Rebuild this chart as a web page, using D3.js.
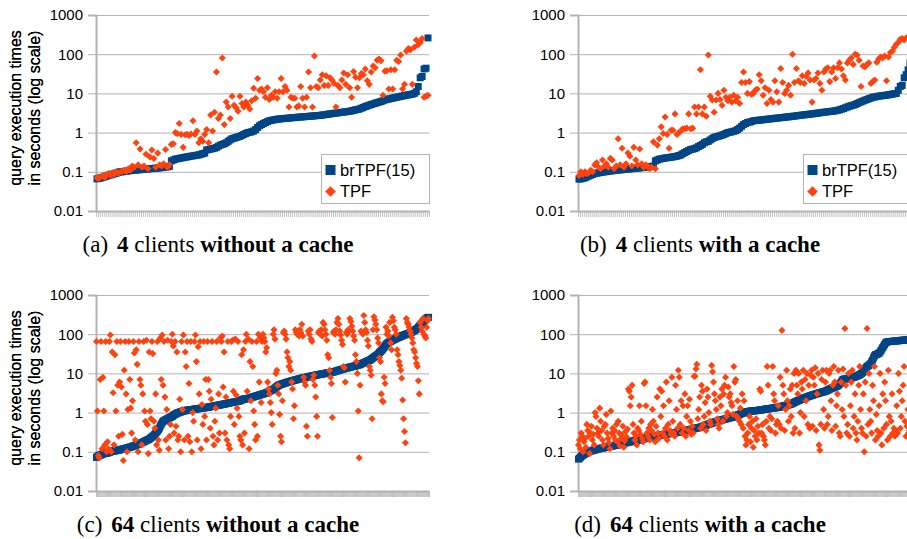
<!DOCTYPE html>
<html>
<head>
<meta charset="utf-8">
<script src="https://cdn.jsdelivr.net/npm/d3@7"></script>
<style>
  body { margin: 0; background: #fff; }
  svg text { font-family: "Liberation Sans", Arial, sans-serif; fill: #000; }
  .caption { font-family: "Liberation Serif", "Times New Roman", serif; font-size: 23px; }
</style>
</head>
<body>
<svg id="chart" width="907" height="539"></svg>
<script>
// ---- data (queries sorted by brTPF time) ----
const brtpfA = [0.066,0.068,0.07,0.072,0.075,0.078,0.081,0.084,0.087,0.09,0.093,0.097,
  0.1,0.1,0.102,0.104,0.105,0.107,0.108,0.11,0.111,0.112,0.113,0.115,0.116,0.117,0.118,0.12,0.121,0.122,0.124,0.125,0.126,0.128,0.13,0.132,0.134,0.138,
  0.19,0.2,0.21,0.215,0.22,0.225,0.23,0.235,0.24,0.245,0.25,0.255,0.26,0.265,0.27,0.28,0.29,0.3,
  0.36,0.37,0.38,0.39,0.4,0.42,0.45,0.48,0.5,0.52,0.55,0.6,0.65,0.7,0.72,0.75,0.78,0.8,0.85,0.9,0.95,1.0,1.02,1.05,
  1.1,1.2,1.35,1.5,1.6,1.7,1.8,1.9,
  2.0,2.05,2.1,2.15,2.2,2.22,2.25,2.28,2.3,2.32,2.35,2.38,2.4,2.42,2.45,2.48,2.5,2.52,2.55,2.58,2.6,2.62,2.65,2.68,2.7,2.73,2.76,2.8,2.85,2.9,2.95,3.0,
  3.05,3.1,3.15,3.2,3.25,3.3,3.35,3.4,3.45,3.5,3.6,3.7,3.8,3.9,4.0,4.2,4.4,4.6,4.8,5.0,5.2,5.4,5.6,5.8,6.0,6.2,6.5,6.8,
  7.0,7.2,7.4,7.6,7.8,8.0,8.2,8.4,8.6,8.8,9.0,9.2,9.4,9.6,10,11,
  15,25,27,42,44,260];
const tpfA = [0.07,0.068,0.075,0.08,0.072,0.085,0.09,0.08,0.095,0.088,0.1,0.092,
  0.1,0.105,0.11,0.1,0.12,0.11,0.14,0.13,0.55,0.15,0.38,0.13,0.14,0.28,0.12,0.24,0.36,0.22,0.13,0.3,0.15,0.14,0.16,0.37,0.13,0.15,
  0.5,0.52,1.0,0.95,1.7,0.9,0.42,0.88,0.9,0.85,0.92,2.0,0.9,1.1,0.55,0.7,0.6,0.9,
  1.2,0.55,2.8,1.1,3.3,35,2.3,2.8,80,1.6,6.0,4.5,2.3,8.5,5.0,4.3,3.5,8.5,5.5,4.5,6.0,5.0,4.0,6.5,
  13.5,7.5,24,12,13,11,8,14,
  7,9,8,11,7.5,11,24,11,15,12,4.5,8,7.5,7.5,4.5,4.8,15,7.5,4.5,8,35,14,4.5,90,15,14,22,30,16,28,16,25,
  22,18,4.5,16,14,22,33,17,30,14,8,36,26,14,25,32,30,42,21,17,35,50,45,70,75,68,9,37,
  38,13,40,13,40,70,65,95,13,17,120,140,130,17,150,230,
  175,200,250,8,8.5,9];

const brtpfB = [0.065,0.066,0.068,0.07,0.074,0.078,0.082,0.086,0.09,
  0.092,0.094,0.096,0.098,0.1,0.101,0.103,0.105,0.106,0.108,0.11,0.111,0.112,0.113,0.115,0.116,0.118,0.119,0.12,0.122,0.123,0.125,0.126,0.128,0.13,0.131,0.133,0.135,0.137,0.14,
  0.19,0.2,0.21,0.215,0.22,0.225,0.228,0.232,0.236,0.24,0.245,
  0.25,0.26,0.27,0.29,0.31,0.33,0.35,
  0.37,0.38,0.39,0.41,0.44,0.47,0.5,
  0.55,0.58,0.6,0.65,0.7,0.75,
  0.78,0.8,0.83,0.86,0.9,0.95,1.0,
  1.02,1.05,1.08,1.12,1.2,
  1.3,1.45,1.6,1.7,
  1.8,1.85,1.9,2.0,
  2.02,2.05,2.08,2.1,2.13,2.16,2.19,2.22,2.25,2.28,2.31,2.34,2.37,2.4,2.43,2.47,2.5,
  2.53,2.56,2.6,2.64,2.68,2.72,2.76,2.8,2.84,2.88,2.92,2.96,3.0,3.05,3.1,3.15,3.2,
  3.25,3.3,3.35,3.4,3.45,3.5,3.55,3.6,3.7,3.8,
  3.95,4.1,4.3,4.5,4.7,4.85,5.0,
  5.2,5.5,5.8,6.1,6.4,6.7,7.0,7.3,7.6,8.0,
  8.1,8.3,8.5,8.6,8.8,8.9,9.0,9.2,9.4,9.6,9.8,10,
  12,15,16,25,30,40,60];
const tpfB = [0.08,0.1,0.085,0.1,0.09,0.095,0.11,0.1,0.15,0.17,0.13,0.12,0.2,0.14,0.16,0.13,0.22,0.2,0.12,0.14,
  0.7,0.15,0.4,0.13,0.16,0.3,0.25,0.14,0.42,0.2,0.15,0.38,0.16,0.13,0.15,0.14,0.12,0.13,
  0.58,0.12,0.48,0.7,1.4,0.95,2.5,0.9,0.4,1.15,1.15,3.0,0.9,1.0,1.1,1.25,1.25,1.3,3.0,1.25,1.3,4.5,3.0,4.5,
  40,3.0,4.5,2.6,95,8.5,6.8,3.3,6.8,10,7,5,12,8,6.5,8,6,9,6.5,8,5.5,19,
  35,19,10,20,9.5,10,12,13,30,21,9,14,5.5,12,7,6,21,11,6,43,19,10,12,16,9,
  100,19,43,21,19,28,18,27,33,22,6,22,24,33,18,12,35,42,45,20,35,45,24,45,60,42,28,22,60,70,80,55,
  100,95,70,15,50,48,55,60,18,20,22,62,75,85,80,90,21,85,110,120,150,180,200,240,250,230,260,280,300];

const brtpfC = [0.072,0.075,0.078,0.08,0.082,0.084,0.086,0.088,0.09,0.091,0.092,0.093,0.094,0.095,0.097,0.1,0.101,0.103,0.104,0.105,
  0.106,0.107,0.108,0.11,0.111,0.112,0.114,0.115,0.117,0.118,0.12,0.121,0.123,0.125,0.127,0.129,0.131,0.133,0.135,0.138,
  0.14,0.143,0.146,0.149,0.152,0.155,0.158,0.162,0.166,0.17,0.175,0.18,0.185,0.19,0.195,0.2,0.205,0.21,0.22,0.23,
  0.24,0.25,0.26,0.28,0.3,0.32,0.34,0.37,0.4,0.45,0.5,0.55,0.6,0.62,0.64,0.66,0.68,0.7,0.72,0.74,
  0.76,0.78,0.8,0.85,0.88,0.9,0.93,0.96,0.98,1.0,1.02,1.04,1.06,1.08,1.1,1.11,1.12,1.13,1.15,1.16,
  1.16,1.17,1.18,1.19,1.2,1.21,1.22,1.23,1.24,1.25,1.26,1.27,1.28,1.29,1.3,1.31,1.32,1.33,1.34,1.35,
  1.36,1.38,1.4,1.41,1.43,1.44,1.45,1.47,1.48,1.5,1.52,1.53,1.55,1.56,1.58,1.6,1.62,1.63,1.65,1.67,
  1.69,1.71,1.73,1.75,1.77,1.79,1.81,1.83,1.85,1.87,1.88,1.9,1.92,1.95,1.98,2.0,2.05,2.1,2.15,2.2,
  2.22,2.24,2.26,2.28,2.3,2.33,2.36,2.4,2.45,2.5,2.54,2.58,2.62,2.66,2.7,2.75,2.8,2.85,2.9,2.95,
  3.0,3.05,3.1,3.15,3.2,3.3,3.4,3.5,3.6,3.7,3.8,3.9,4.0,4.2,4.4,4.6,4.8,5.0,5.1,5.2,
  5.3,5.4,5.5,5.6,5.7,5.8,5.9,6.0,6.1,6.2,6.3,6.4,6.5,6.6,6.7,6.8,6.9,7.0,7.1,7.2,
  7.3,7.4,7.5,7.6,7.7,7.8,7.9,8.0,8.1,8.2,8.3,8.4,8.5,8.6,8.7,8.8,8.9,9.0,9.1,9.2,
  9.3,9.4,9.5,9.6,9.7,9.8,9.9,10,10.1,10.2,10.3,10.4,10.5,10.6,10.7,10.8,10.9,11,11.2,11.4,
  11.6,11.8,12,12.2,12.4,12.6,12.8,13,13.2,13.4,13.6,13.8,14,14.2,14.4,14.6,14.8,15,15.2,15.4,
  15.6,15.8,16,16.3,16.6,17,17.4,17.8,18.2,18.6,19,19.5,20,20.5,21,21.5,22,23,24,25,
  26,27,28,29,30,32,34,36,38,40,43,46,50,54,58,60,62,64,66,68,
  70,72,74,76,78,80,82,84,86,88,90,92,94,96,98,100,102,104,106,108,
  110,114,118,122,126,130,135,140,150,160,170,180,190,200,215,230,245,255,265,270];
const tpfC = [65,1.1,0.08,0.07,7,65,0.12,8,1.1,0.15,65,0.1,0.18,0.12,65,95,0.1,35,3.2,0.15,
  30,1.1,65,5,0.25,6,65,4.5,0.28,0.06,12,65,3.0,0.1,1.2,65,7,1.3,0.3,2.0,
  65,33,0.2,40,17,0.1,65,7,5,0.15,3,65,1.1,0.6,70,0.5,0.09,35,1.1,0.7,
  65,32,0.6,0.4,3,0.15,65,0.2,0.11,80,7,95,5,65,2.5,0.2,1.2,70,0.12,0.25,
  0.5,65,100,50,0.3,65,0.45,35,0.2,0.25,2.2,0.1,65,1.2,95,0.2,35,15,65,0.25,
  5.5,0.18,65,0.1,1.0,0.6,65,95,20,0.2,48,3,65,0.12,1.6,0.5,65,0.8,7,0.2,
  65,7,3.5,0.4,2.2,65,0.25,0.15,0.6,1.3,65,0.2,3.0,0.3,80,65,90,4.5,35,0.3,
  2.5,0.2,65,0.15,0.12,0.8,65,70,3.5,0.5,75,2.8,1.3,65,0.8,0.25,0.2,30,0.15,40,
  0.3,65,100,3.5,75,0.12,20,2,65,15,1.1,0.5,0.2,65,0.25,100,6,80,1.8,65,
  100,80,65,35,45,6,4,3,1.8,1.0,0.5,100,130,75,10,12,5,3,0.9,0.25,
  0.18,2,110,120,100,75,35,25,15,20,12,6,4,0.7,1.5,130,110,100,120,90,
  130,110,180,90,8,6,5,0.45,0.25,120,100,130,75,65,7,9,5,2.5,0.8,0.25,
  110,120,100,130,90,200,180,130,100,70,30,25,12,8,5.5,0.75,110,120,100,130,
  200,250,180,120,95,70,55,15,14,6,110,100,130,120,250,210,160,120,90,70,
  30,20,10,1.1,0.07,5,120,110,100,300,200,130,110,70,50,15,12,9,0.7,130,
  280,230,180,130,80,60,25,20,3,2,1.9,8,5.5,150,100,120,90,200,60,40,
  270,220,150,130,100,40,30,20,16,12,7.5,2.1,0.7,0.33,0.17,250,200,180,150,120,
  100,80,60,40,35,25,18,15,6.5,3,200,150,120,250,100,90,80,150,220,250];

const brtpfD = [0.065,0.068,0.072,0.076,0.08,0.083,0.086,0.089,0.092,0.095,0.098,0.1,0.102,0.104,0.106,0.108,0.11,0.111,0.112,0.114,
  0.116,0.118,0.12,0.121,0.122,0.124,0.125,0.127,0.128,0.13,0.131,0.133,0.134,0.136,0.137,0.139,0.14,0.142,0.143,0.145,
  0.147,0.149,0.151,0.153,0.155,0.157,0.16,0.162,0.164,0.166,0.168,0.17,0.172,0.174,0.176,0.178,0.18,0.183,0.186,0.189,
  0.19,0.192,0.194,0.196,0.198,0.2,0.202,0.205,0.208,0.211,0.214,0.217,0.22,0.223,0.226,0.229,0.232,0.235,0.238,0.241,
  0.244,0.247,0.25,0.252,0.254,0.256,0.258,0.26,0.262,0.265,0.268,0.271,0.274,0.277,0.28,0.283,0.286,0.289,0.292,0.295,
  0.297,0.3,0.302,0.304,0.306,0.308,0.31,0.313,0.316,0.32,0.324,0.328,0.332,0.336,0.34,0.344,0.348,0.35,0.355,0.36,
  0.365,0.37,0.375,0.38,0.385,0.39,0.395,0.4,0.405,0.41,0.415,0.42,0.425,0.43,0.44,0.45,0.46,0.47,0.48,0.49,
  0.5,0.51,0.52,0.53,0.54,0.55,0.56,0.57,0.58,0.59,0.6,0.61,0.62,0.63,0.64,0.65,0.66,0.67,0.68,0.69,
  0.7,0.71,0.72,0.73,0.74,0.75,0.76,0.77,0.78,0.8,0.82,0.84,0.86,0.88,0.9,0.92,0.94,0.96,0.98,1.0,
  1.02,1.04,1.05,1.06,1.07,1.08,1.09,1.1,1.1,1.11,1.11,1.12,1.12,1.13,1.14,1.15,1.16,1.17,1.18,1.19,
  1.2,1.21,1.22,1.23,1.24,1.25,1.26,1.27,1.28,1.29,1.3,1.31,1.32,1.33,1.34,1.35,1.36,1.38,1.4,1.42,
  1.44,1.46,1.48,1.5,1.52,1.54,1.56,1.58,1.6,1.63,1.66,1.7,1.75,1.8,1.85,1.9,1.95,2.0,2.05,2.1,
  2.15,2.2,2.25,2.3,2.35,2.4,2.45,2.5,2.55,2.6,2.65,2.7,2.75,2.8,2.85,2.9,2.95,3.0,3.05,3.1,
  3.15,3.2,3.25,3.3,3.35,3.4,3.45,3.5,3.6,3.7,3.8,3.9,4.0,4.1,4.2,4.3,4.4,4.5,4.6,4.7,
  4.8,5.0,5.3,5.6,6.0,6.5,7.0,7.1,7.2,7.2,7.3,7.3,7.4,7.5,7.6,7.7,7.8,7.9,8.0,8.2,
  8.4,8.6,8.8,9.0,9.3,9.6,10,10.5,11,12,13,14,15,15.5,16,17,18,20,22,25,
  28,30,30,31,32,33,35,38,42,46,50,55,60,62,64,65,65,65,65,66,
  66,66,67,67,68,68,68,69,69,70,70,70,70,71,71,72,72,73,74,75];
const tpfD = [0.15,0.2,0.12,0.3,0.25,0.1,0.18,0.22,0.13,0.5,0.35,0.25,0.09,0.3,0.45,0.2,0.28,0.15,
  1.0,0.8,0.4,0.3,0.25,1.3,0.6,0.35,0.2,0.15,0.45,0.5,0.9,0.3,0.22,0.17,0.12,1.1,
  0.3,0.4,0.25,0.35,0.2,0.5,0.18,0.6,0.3,0.14,0.22,0.27,0.45,0.13,0.19,0.33,0.24,0.38,
  4,3.5,1.5,2.5,5,0.5,0.3,0.2,0.25,0.15,0.4,0.35,1.5,0.28,0.6,0.22,0.18,5.5,
  6,1.5,0.3,0.25,0.4,0.2,0.5,0.35,1.2,0.6,0.28,0.18,0.45,2.5,0.3,0.22,4,0.8,
  3.5,0.3,1.5,0.25,0.4,6,0.2,0.5,2,0.35,0.28,8,0.6,0.3,0.25,5,1.2,0.4,
  12,8,0.5,2,0.3,1.5,0.4,3,0.25,0.8,1.5,0.35,2.2,0.6,0.28,0.45,0.3,8.5,
  8.5,13,17,0.7,1.2,2.5,0.4,5,3.5,0.5,0.8,1.8,0.35,4,2.5,1.0,0.6,0.5,
  16,11,6,3,2,1.2,0.7,0.5,0.4,2.5,1.5,4,0.6,3,5,8,0.8,1,
  4.5,2.5,3,1.8,1.5,0.9,15,6,7,0.8,2,0.7,0.6,1.3,0.5,3,0.4,2,
  0.25,0.15,0.2,0.3,0.5,0.8,0.18,0.4,0.6,0.13,0.35,0.25,0.7,0.2,0.45,0.3,4,3.5,
  0.3,0.5,0.25,0.2,0.15,0.6,15,5,0.4,0.8,0.35,0.7,15,3,2,0.3,0.5,0.6,
  1.5,0.5,8,0.4,125,5,3,0.35,1.2,12,2,0.6,1.5,4,0.8,5,0.3,10,
  0.4,12,5,3,10,0.3,1,6,4,12,0.8,7,2,10,0.5,5,0.4,9,
  12,0.45,8,5,14,0.35,3,10,0.15,0.11,0.5,7,12,1.2,0.4,6,12,0.5,
  0.8,10,12,2,0.35,5,15,6,0.45,1.5,3,12,0.3,0.25,6,1.2,13,0.8,
  140,5,0.3,0.5,10,0.25,1.5,6,12,0.4,0.8,3,0.3,0.2,0.6,5,15,1.2,
  0.4,0.3,3,0.1,6,0.25,140,0.5,10,1.2,0.6,0.3,5,2,15,0.2,0.9,0.35,
  0.25,1.5,10,0.3,0.15,3,0.4,6,2,0.5,0.2,12,0.8,0.25,0.6,3,0.3,0.4,
  0.25,0.35,1.5,0.3,10,3.5,0.4,0.8,2,5,15,0.6,0.25,0.45,1.2,0.3,0.35,0.3];

const yTicks = [0.01, 0.1, 1, 10, 100, 1000];
const yTickLabels = ["0.01", "0.1", "1", "10", "100", "1000"];
const seriesNames = ["brTPF(15)", "TPF"];
const yTitle = ["query execution times", "in seconds (log scale)"];

const colors = {brtpf: "#004586", tpf: "#ff420e", grid: "#b3b3b3"};

// panel placement
const plotW = 333, plotH = 196;
const panels = [
  {brtpf: brtpfA, tpf: tpfA, left: 96,  top: 15,  legend: true,  tag: "(a)", clients: "4",  cache: "without a cache"},
  {brtpf: brtpfB, tpf: tpfB, left: 578, top: 15,  legend: true,  tag: "(b)", clients: "4",  cache: "with a cache"},
  {brtpf: brtpfC, tpf: tpfC, left: 96,  top: 295, legend: false, tag: "(c)", clients: "64", cache: "without a cache"},
  {brtpf: brtpfD, tpf: tpfD, left: 578, top: 295, legend: false, tag: "(d)", clients: "64", cache: "with a cache"}
];

const svg = d3.select('#chart');
svg.append('rect').attr('width', 907).attr('height', 539).attr('fill', '#fff');

const diamond = d3.symbol(d3.symbolSquare, 25);

panels.forEach(p => {
  const n = p.brtpf.length;
  const g = svg.append('g').attr('transform', `translate(${p.left}, ${p.top})`);

  const x = d3.scaleBand().domain(d3.range(n)).range([0, plotW]);
  const xEdge = d3.scaleLinear().domain([0, n]).range([0, plotW]);
  const y = d3.scaleLog().domain([0.01, 1000]).range([plotH, 0]);

  // horizontal grid
  g.append('g')
    .call(d3.axisLeft(y).tickValues(yTicks).tickSize(-plotW).tickFormat(''))
    .call(a => a.select('.domain').remove())
    .selectAll('line').attr('stroke', colors.grid).attr('stroke-width', 1);

  // y axis with labels
  const yAxis = g.append('g')
    .call(d3.axisLeft(y).tickValues(yTicks).tickSize(8).tickPadding(5)
      .tickFormat((d, i) => yTickLabels[i]));
  yAxis.select('.domain').attr('stroke', colors.grid).attr('stroke-width', 2);
  yAxis.selectAll('line').attr('stroke', colors.grid);
  yAxis.selectAll('text').attr('font-size', 15).attr('fill', '#000')
    .style('font-family', '"Liberation Sans", Arial, sans-serif');

  // x axis: one tick per query
  const xAxis = g.append('g').attr('transform', `translate(0, ${plotH})`)
    .call(d3.axisBottom(xEdge).tickValues(d3.range(n + 1)).tickSize(6).tickSizeOuter(0).tickFormat(''));
  xAxis.select('.domain').attr('stroke', colors.grid).attr('stroke-width', 2);
  xAxis.selectAll('line').attr('stroke', colors.grid).attr('stroke-width', 0.8);

  // y title
  const title = g.append('text')
    .attr('transform', `translate(${-p.left + 20.5}, ${plotH / 2 - 5}) rotate(-90)`)
    .attr('text-anchor', 'middle').attr('font-size', 16);
  title.append('tspan').attr('x', 0).attr('y', 0).text(yTitle[0]);
  title.append('tspan').attr('x', 0).attr('y', 19.5).text(yTitle[1]);

  // brTPF squares
  g.append('g').selectAll('rect').data(p.brtpf).join('rect')
    .attr('x', (d, i) => x(i) + x.bandwidth() / 2 - 3.5)
    .attr('y', d => y(d) - 3.5)
    .attr('width', 7).attr('height', 7)
    .attr('fill', colors.brtpf);

  // TPF diamonds
  g.append('g').selectAll('path').data(p.tpf).join('path')
    .attr('d', diamond)
    .attr('transform', (d, i) => `translate(${x(i) + x.bandwidth() / 2}, ${y(d)}) rotate(45)`)
    .attr('fill', colors.tpf);

  // legend
  if (p.legend) {
    const lg = g.append('g').attr('transform', `translate(225, 139)`);
    lg.append('rect').attr('x', 0.5).attr('y', 0.5).attr('width', 108).attr('height', 49)
      .attr('fill', '#fff').attr('stroke', colors.grid);
    lg.append('rect').attr('x', 4.5).attr('y', 11).attr('width', 10).attr('height', 10)
      .attr('fill', colors.brtpf);
    lg.append('path').attr('d', d3.symbol(d3.symbolSquare, 56))
      .attr('transform', 'translate(9.5, 37.5) rotate(45)').attr('fill', colors.tpf);
    lg.append('text').attr('x', 19).attr('y', 22).attr('font-size', 16.5).text(seriesNames[0]);
    lg.append('text').attr('x', 19).attr('y', 43).attr('font-size', 16.5).text(seriesNames[1]);
  }

  // caption under panel
  const cap = svg.append('text').attr('class', 'caption')
    .attr('x', p.left + 122).attr('y', p.top + 237)
    .attr('text-anchor', 'middle');
  cap.append('tspan').text(p.tag);
  cap.append('tspan').attr('dx', 9).attr('font-weight', 'bold').text(p.clients);
  cap.append('tspan').text(' clients ');
  cap.append('tspan').attr('font-weight', 'bold').text(p.cache);
});
</script>
</body>
</html>
